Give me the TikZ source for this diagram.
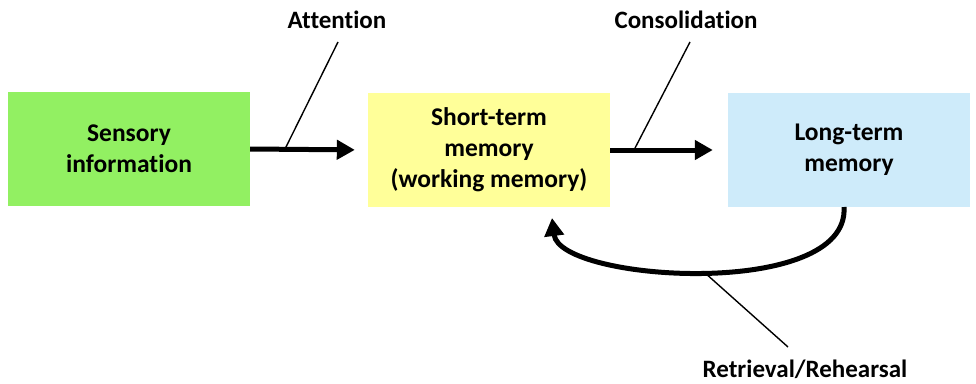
\documentclass[tikz,border=0pt]{standalone}
\usepackage{fontspec}
\setmainfont{Carlito}[Ligatures=NoCommon]
\usetikzlibrary{arrows.meta}
\definecolor{sensgreen}{RGB}{146,240,98}
\definecolor{stmyellow}{RGB}{255,255,153}
\definecolor{ltmblue}{RGB}{206,235,250}
\tikzset{
  membox/.style={minimum width=242pt, minimum height=114pt, align=center,
    font=\fontsize{25.5}{31}\selectfont\bfseries, inner sep=0pt},
  lbl/.style={font=\fontsize{25}{28}\selectfont\bfseries, inner sep=0pt},
  flow/.style={line width=5pt, -{Triangle[length=18pt,width=19pt]}},
  leader/.style={line width=1.4pt}
}
\begin{document}
\begin{tikzpicture}[x=1pt,y=-1pt]
\useasboundingbox (0,0) rectangle (976,383);
\node[membox, fill=sensgreen] (sens) at (129,149) {Sensory\\information};
\node[membox, fill=stmyellow] (stm) at (489,150) {Short-term\\memory\\(working memory)};
\node[membox, fill=ltmblue] (ltm) at (849,150) {Long-term\\memory};
\node[lbl] (attn) at (337,20) {Attention};
\node[lbl] (cons) at (686,20) {Consolidation};
\node[lbl] (retr) at (805,369) {Retrieval/Rehearsal};
\path[draw,flow,shorten >=13pt] (sens.east) -- (stm.west);
\path[draw,flow,shorten >=15pt] (stm.east) -- (ltm.west);
\coordinate (a1) at (285,149);
\coordinate (c1) at (634,150);
\coordinate (a2) at (338,42);
\coordinate (c2) at (690,42);
\path[draw,leader] (a1) -- (a2);
\path[draw,leader] (c1) -- (c2);
\path[draw,flow] (844,207) .. controls (850,300) and (560,282) .. (552,218)
  coordinate[pos=0.5] (r1);
\coordinate (r2) at (788,347);
\path[draw,leader] (r1) -- (r2);
\end{tikzpicture}
\end{document}
